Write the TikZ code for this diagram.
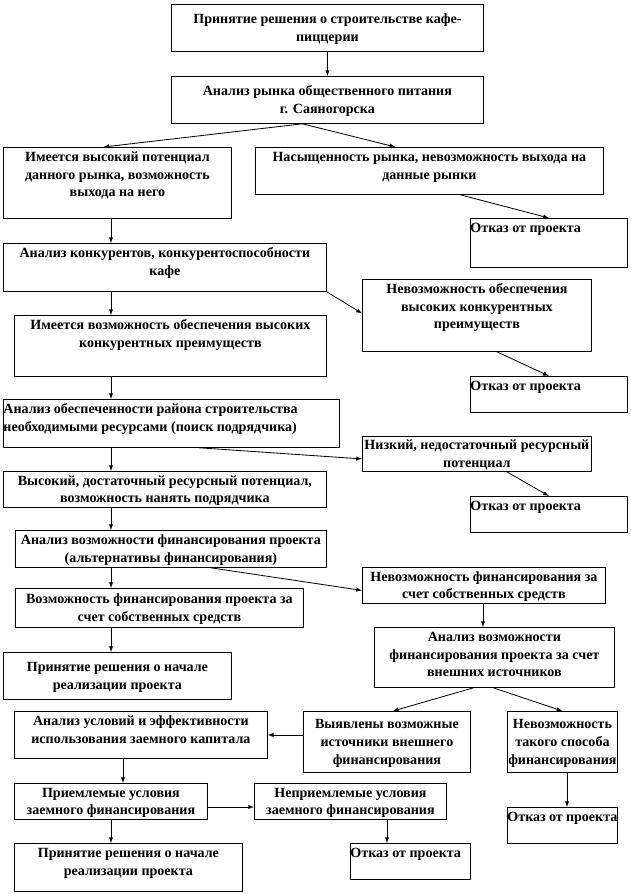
\documentclass[tikz,border=0pt]{standalone}
\usepackage{fontspec}
\setmainfont{Liberation Serif}
\usetikzlibrary{calc}
\newlength{\px}\setlength{\px}{0.03cm}
\newcommand{\bt}[4][t]{\parbox[t][#3\px][#1]{#2\px}{\centering\vspace*{2\px}\strut#4\strut}}

\begin{document}
\begin{tikzpicture}[x=0.03cm, y=-0.03cm, line width=0.7pt,
  blk/.style={draw, anchor=north west, inner sep=0pt, font=\bfseries\fontsize{12}{15}\selectfont},
  arr/.style={-latex}]
\useasboundingbox (0,0) rectangle (630,894);

\node[blk] (a1) at (171,4) {\bt[c]{312}{47}{Принятие решения о строительстве кафе-\\пиццерии}};
\node[blk] (a2) at (171,76) {\bt[c]{312}{47}{Анализ рынка общественного питания\\г. Саяногорска}};
\node[blk] (b1) at (3,147) {\bt{228}{71}{Имеется высокий потенциал\\данного рынка, возможность\\выхода на него}};
\node[blk] (b2) at (255,147) {\bt{348}{47}{Насыщенность рынка, невозможность выхода на\\данные рынки}};
\node[blk] (b3) at (470,218) {\bt{157}{49}{\raggedright Отказ от проекта}};
\node[blk] (c1) at (3,243) {\bt{323}{48}{Анализ конкурентов, конкурентоспособности\\кафе}};
\node[blk] (c2) at (362,279) {\bt{229}{72}{Невозможность обеспечения\\высоких конкурентных\\преимуществ}};
\node[blk] (c3) at (14,315) {\bt{312}{61}{Имеется возможность обеспечения высоких\\конкурентных  преимуществ}};
\node[blk] (c4) at (470,376) {\bt{157}{36}{\raggedright Отказ от проекта}};
\node[blk] (d1) at (3,399) {\bt{336}{48}{\raggedright Анализ обеспеченности района строительства\\необходимыми ресурсами (поиск подрядчика)}};
\node[blk] (d2) at (362,436) {\bt[c]{229}{35}{Низкий, недостаточный ресурсный\\потенциал}};
\node[blk] (d3) at (3,471) {\bt[c]{323}{36}{Высокий, достаточный ресурсный потенциал,\\возможность нанять подрядчика}};
\node[blk] (d4) at (470,496) {\bt{157}{36}{\raggedright Отказ от проекта}};
\node[blk] (e1) at (15,530) {\bt[c]{311}{37}{Анализ возможности финансирования проекта\\(альтернативы финансирования)}};
\node[blk] (e2) at (362,567) {\bt[c]{243}{36}{Невозможность финансирования за\\счет собственных средств}};
\node[blk] (e3) at (15,588) {\bt[c]{288}{39}{Возможность финансирования проекта за\\счет собственных средств}};
\node[blk] (e4) at (374,627) {\bt{240}{60}{Анализ возможности\\финансирования проекта за счет\\внешних источников}};
\node[blk] (f1) at (3,652) {\bt[c]{228}{47}{Принятие решения о начале\\реализации проекта}};
\node[blk] (f2) at (303,711) {\bt[c]{167}{61}{Выявлены возможные\\источники внешнего\\финансирования}};
\node[blk] (f3) at (507,711) {\bt[c]{110}{61}{Невозможность\\такого способа\\финансирования}};
\node[blk] (f4) at (14,711) {\bt{253}{47}{Анализ условий и эффективности\\использования заемного капитала}};
\node[blk] (g1) at (14,783) {\bt[c]{193}{36}{Приемлемые условия\\заемного финансирования}};
\node[blk] (g2) at (254,783) {\bt[c]{192}{36}{Неприемлемые условия\\заемного финансирования}};
\node[blk] (g3) at (14,843) {\bt{228}{48}{Принятие решения о начале\\реализации проекта}};
\node[blk] (g4) at (350,843) {\bt{120}{36}{\raggedright Отказ от проекта}};
\node[blk] (r4) at (507,807) {\bt{110}{36}{\raggedright Отказ от проекта}};

% columns and rows of the straight arrows
\coordinate (col) at (111,0);
\coordinate (col2) at (123,0);
\coordinate (col3) at (387,0);
\coordinate (col4) at (483,0);
\coordinate (col5) at (567,0);
\coordinate (row) at (0,807);

\draw[arr] (a1.south) -- (a1.south |- a2.north);
\draw[arr] ($(a2.south)+(-25,0)$) -- ($(b1.north)+(-14,0)$);
\draw[arr] ($(a2.south)+(-25,0)$) -- ($(b2.north)+(-34,0)$);
\draw[arr] ($(b2.south)+(31,0)$) -- (b3.north);
\foreach \src/\dst in {b1/c1, c1/c3, c3/d1, d1/d3, d3/e1, e1/e3, e3/f1, g1/g3}
  \draw[arr] (col |- \src.south) -- (col |- \dst.north);
\draw[arr] (c1.south east) -- ($(c2.west)+(0,-2)$);
\draw[arr] ($(c2.south)+(20,0)$) -- (c4.north);
\draw[arr] ($(d1.south)+(28,0)$) -- ($(d2.west)+(0,5)$);
\draw[arr] ($(d2.south)+(30,0)$) -- (d4.north);
\draw[arr] ($(e1.south)+(40,0)$) -- ($(e2.west)+(0,5)$);
\draw[arr] (col4 |- e2.south) -- (col4 |- e4.north);
\draw[arr] ($(e4.south)+(-21,0)$) -- ($(f2.north)+(6,0)$);
\draw[arr] ($(e4.south)+(-1,0)$) -- (f3.north);
\draw[arr] (f4.east -| f2.west) -- (f4.east);
\draw[arr] (col2 |- f4.south) -- (col2 |- g1.north);
\draw[arr] (g1.east |- row) -- (g2.west |- row);
\draw[arr] (col3 |- g2.south) -- (col3 |- g4.north);
\draw[arr] (col5 |- f3.south) -- (col5 |- r4.north);
\end{tikzpicture}
\end{document}
